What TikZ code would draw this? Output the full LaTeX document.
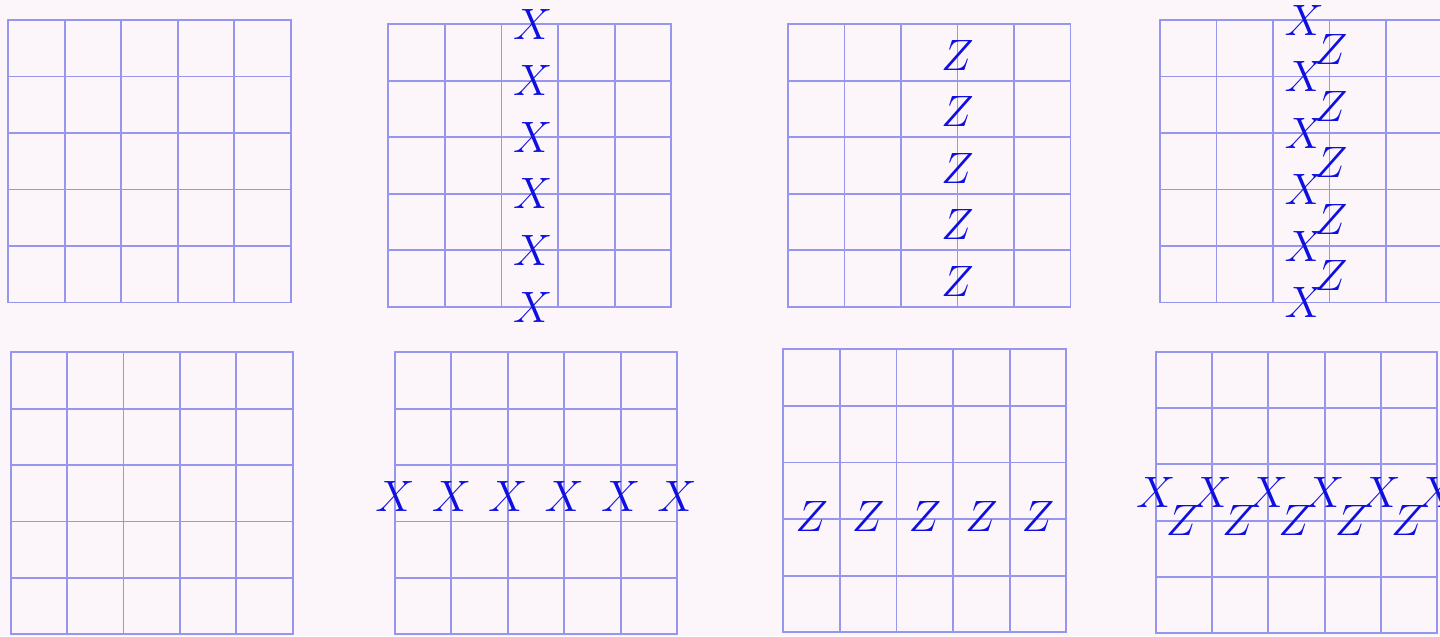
\documentclass[tikz,border=0pt]{standalone}
\usepackage{fix-cm}
\definecolor{fondo}{RGB}{252,246,250}
\definecolor{rejilla}{RGB}{150,150,238}
\definecolor{operador}{RGB}{15,15,225}

\begin{document}
\begin{tikzpicture}[x=0.02cm, y=-0.02cm,
    linea/.style={line width=1.1pt, rejilla},
    op/.style={operador, inner sep=0pt, font=\fontsize{25}{29}\selectfont},
    rej/.style n args={3}{shift={(#1,#2)}, x=#3*0.02cm, y=-#3*0.02cm}]
    % Fondo
    \fill[fondo] (0,0) rectangle (1440,636);
    \useasboundingbox (0,0) rectangle (1440,636);
    \clip (0,0) rectangle (1440,636);

    % Rejillas 5x5 (esquina superior izquierda, lado de celda)
    \foreach \gx/\gy/\c in {8.3/20/56.5, 388.3/24/56.6, 788/24.3/56.5, 1160/20/56.5,
        10.7/352.3/56.4, 395/352.3/56.4, 783.3/349.3/56.6, 1155.7/351.7/56.3}{
        \begin{scope}[rej={\gx}{\gy}{\c}]
            \draw[linea] (0,0) rectangle (5,5);
            \foreach \i in {1,...,4}{
                \draw[linea] (\i,0) -- (\i,5);
                \draw[linea] (0,\i) -- (5,\i);
            }
        \end{scope}
    }

    % Fila superior: X en columna
    \begin{scope}[rej={388.3}{24}{56.6}]
        \foreach \j in {0,...,5}
            \node[op] (xa\j) at (2.55,\j) {$X$};
    \end{scope}

    % Fila superior: Z en columna
    \begin{scope}[rej={788}{24.3}{56.5}]
        \foreach \j in {0,...,4}
            \node[op] (za\j) at (3,\j+0.55) {$Z$};
    \end{scope}

    % Fila superior: X y Z juntos
    \begin{scope}[rej={1160}{20}{56.5}]
        \foreach \j in {0,...,5}
            \node[op] (xb\j) at (2.55,\j) {$X$};
        \foreach \j in {0,...,4}
            \node[op] (zb\j) at (3.03,\j+0.53) {$Z$};
    \end{scope}

    % Fila inferior: X en fila
    \begin{scope}[rej={395}{352.3}{56.4}]
        \foreach \j in {0,...,5}
            \node[op] (xc\j) at (\j,2.55) {$X$};
    \end{scope}

    % Fila inferior: Z en fila
    \begin{scope}[rej={783.3}{349.3}{56.6}]
        \foreach \j in {0,...,4}
            \node[op] (zc\j) at (\j+0.5,2.95) {$Z$};
    \end{scope}

    % Fila inferior: X y Z juntos
    \begin{scope}[rej={1155.7}{351.7}{56.3}]
        \foreach \j in {0,...,5}
            \node[op] (xd\j) at (\j,2.5) {$X$};
        \foreach \j in {0,...,4}
            \node[op] (zd\j) at (\j+0.47,3) {$Z$};
    \end{scope}
\end{tikzpicture}
\end{document}
